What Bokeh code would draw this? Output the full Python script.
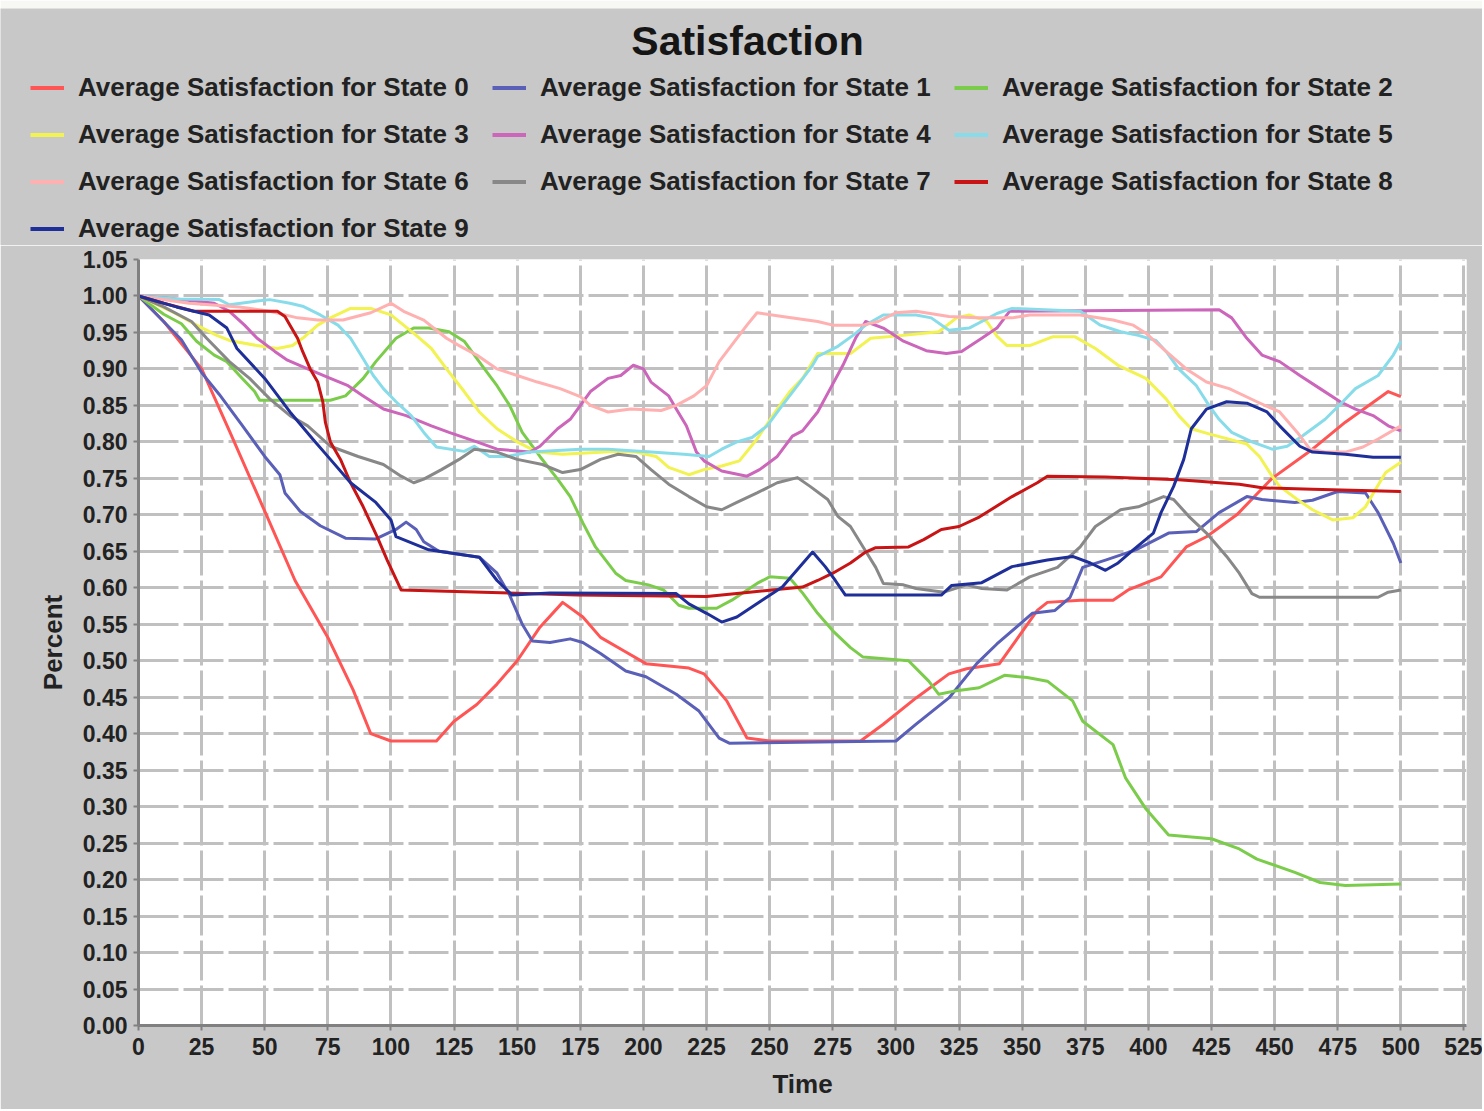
from bokeh.plotting import figure
from bokeh.models import Legend, LegendItem, FixedTicker, NumeralTickFormatter, Range1d, Label
from bokeh.embed import file_html
from bokeh.resources import INLINE

FONT = "Liberation Sans"
BG = "#c8c8c8"

title_text = "Satisfaction"
x_label = "Time"
y_label = "Percent"
series_names = [
    "Average Satisfaction for State 0", "Average Satisfaction for State 1",
    "Average Satisfaction for State 2", "Average Satisfaction for State 3",
    "Average Satisfaction for State 4", "Average Satisfaction for State 5",
    "Average Satisfaction for State 6", "Average Satisfaction for State 7",
    "Average Satisfaction for State 8", "Average Satisfaction for State 9",
]
series_colors = ["#ff5555", "#5a5fb8", "#7ccc4c", "#f2f250", "#cc66bb",
                 "#88dcea", "#ffb0b0", "#888888", "#c81414", "#1f2f99"]

x_ticks = [0, 25, 50, 75, 100, 125, 150, 175, 200, 225, 250, 275, 300, 325,
           350, 375, 400, 425, 450, 475, 500, 525]
y_ticks = [0.00, 0.05, 0.10, 0.15, 0.20, 0.25, 0.30, 0.35, 0.40, 0.45, 0.50,
           0.55, 0.60, 0.65, 0.70, 0.75, 0.80, 0.85, 0.90, 0.95, 1.00, 1.05]

# State 0
t0 = [0, 10, 25, 36, 50, 62, 75, 85, 92, 100, 118, 125, 134, 142, 150, 159, 168, 176, 183, 192, 201, 218, 224, 233, 241, 250, 286, 295, 308, 321, 328, 341, 356, 360, 373, 386, 392, 405, 415, 423, 435, 449, 465, 478, 491, 495, 500]
v0 = [1.0, 0.965, 0.90, 0.815, 0.705, 0.61, 0.532, 0.46, 0.40, 0.39, 0.39, 0.417, 0.44, 0.468, 0.50, 0.546, 0.58, 0.56, 0.532, 0.514, 0.496, 0.49, 0.482, 0.445, 0.394, 0.39, 0.39, 0.413, 0.449, 0.482, 0.489, 0.496, 0.569, 0.58, 0.583, 0.583, 0.597, 0.615, 0.656, 0.67, 0.70, 0.75, 0.79, 0.827, 0.859, 0.869, 0.862]
# State 1
t1 = [0, 17, 25, 32, 41, 50, 56, 58, 64, 72, 82, 94, 102, 106, 110, 113, 119, 135, 142, 147, 152, 156, 163, 171, 176, 183, 193, 201, 213, 222, 230, 234, 300, 308, 321, 332, 340, 354, 363, 369, 374, 383, 395, 408, 419, 428, 439, 445, 458, 465, 475, 486, 491, 497, 500]
v1 = [1.0, 0.94, 0.895, 0.865, 0.823, 0.78, 0.755, 0.73, 0.705, 0.685, 0.668, 0.667, 0.68, 0.69, 0.68, 0.663, 0.65, 0.642, 0.62, 0.59, 0.55, 0.527, 0.525, 0.53, 0.525, 0.51, 0.486, 0.478, 0.454, 0.431, 0.394, 0.387, 0.39, 0.413, 0.449, 0.496, 0.523, 0.565, 0.569, 0.587, 0.628, 0.638, 0.652, 0.675, 0.677, 0.703, 0.725, 0.721, 0.717, 0.72, 0.732, 0.73, 0.703, 0.661, 0.634]
# State 2
t2 = [0, 10, 17, 23, 30, 35, 40, 46, 48, 76, 82, 89, 94, 102, 109, 115, 123, 129, 136, 142, 147, 152, 159, 166, 171, 176, 181, 189, 193, 202, 208, 214, 218, 229, 235, 245, 250, 258, 263, 269, 275, 282, 287, 305, 313, 317, 324, 333, 343, 352, 360, 370, 374, 386, 391, 399, 408, 425, 436, 443, 458, 468, 478, 500]
v2 = [1.0, 0.975, 0.962, 0.938, 0.919, 0.91, 0.891, 0.869, 0.857, 0.857, 0.863, 0.887, 0.91, 0.942, 0.956, 0.956, 0.951, 0.938, 0.905, 0.877, 0.85, 0.813, 0.78, 0.749, 0.725, 0.689, 0.656, 0.62, 0.61, 0.604, 0.597, 0.576, 0.572, 0.572, 0.583, 0.606, 0.615, 0.613, 0.593, 0.565, 0.541, 0.518, 0.505, 0.50, 0.472, 0.454, 0.459, 0.463, 0.48, 0.477, 0.472, 0.445, 0.417, 0.385, 0.339, 0.297, 0.261, 0.256, 0.242, 0.228, 0.21, 0.196, 0.192, 0.194]
# State 3
t3 = [0, 13, 23, 31, 36, 47, 55, 61, 65, 71, 76, 84, 92, 100, 105, 110, 116, 122, 129, 135, 142, 150, 158, 168, 190, 197, 205, 210, 218, 224, 231, 238, 245, 253, 258, 263, 269, 282, 290, 303, 317, 324, 329, 336, 340, 344, 353, 362, 371, 379, 388, 399, 407, 412, 417, 424, 439, 444, 449, 452, 459, 465, 473, 481, 486, 490, 494, 500]
v3 = [1.0, 0.979, 0.96, 0.946, 0.939, 0.932, 0.928, 0.932, 0.942, 0.96, 0.97, 0.983, 0.983, 0.974, 0.96, 0.946, 0.928, 0.90, 0.869, 0.841, 0.818, 0.80, 0.786, 0.783, 0.787, 0.786, 0.78, 0.765, 0.755, 0.762, 0.767, 0.774, 0.804, 0.845, 0.869, 0.887, 0.921, 0.921, 0.942, 0.946, 0.951, 0.97, 0.974, 0.965, 0.945, 0.932, 0.932, 0.944, 0.944, 0.928, 0.905, 0.887, 0.859, 0.836, 0.818, 0.811, 0.797, 0.78, 0.753, 0.739, 0.721, 0.707, 0.693, 0.696, 0.711, 0.735, 0.758, 0.772]
# State 4
t4 = [0, 15, 30, 36, 42, 47, 54, 59, 67, 76, 83, 89, 97, 106, 116, 123, 134, 142, 155, 159, 166, 171, 179, 186, 191, 196, 200, 203, 210, 213, 217, 221, 224, 231, 241, 246, 253, 259, 263, 269, 274, 279, 284, 288, 295, 303, 312, 320, 326, 334, 340, 345, 428, 433, 439, 445, 452, 460, 468, 476, 482, 489, 495, 500]
v4 = [1.0, 0.996, 0.99, 0.979, 0.96, 0.942, 0.924, 0.912, 0.90, 0.887, 0.877, 0.863, 0.845, 0.836, 0.822, 0.813, 0.80, 0.79, 0.786, 0.794, 0.818, 0.831, 0.869, 0.887, 0.891, 0.905, 0.90, 0.882, 0.863, 0.845, 0.822, 0.786, 0.774, 0.76, 0.753, 0.762, 0.78, 0.808, 0.815, 0.841, 0.873, 0.905, 0.942, 0.965, 0.956, 0.938, 0.925, 0.921, 0.924, 0.942, 0.956, 0.979, 0.981, 0.97, 0.942, 0.919, 0.91, 0.891, 0.873, 0.855, 0.845, 0.836, 0.822, 0.815]
# State 5
t5 = [0, 15, 32, 36, 47, 52, 60, 65, 72, 79, 84, 89, 93, 97, 102, 108, 113, 118, 129, 133, 139, 146, 155, 175, 186, 203, 216, 226, 231, 237, 243, 249, 255, 261, 267, 269, 277, 283, 288, 295, 308, 314, 321, 329, 334, 340, 346, 373, 381, 389, 396, 403, 407, 412, 419, 424, 428, 433, 441, 449, 455, 461, 470, 477, 482, 491, 497, 500]
v5 = [1.0, 0.996, 0.995, 0.988, 0.993, 0.995, 0.99, 0.986, 0.974, 0.96, 0.942, 0.914, 0.891, 0.873, 0.855, 0.836, 0.813, 0.793, 0.787, 0.794, 0.78, 0.78, 0.786, 0.79, 0.79, 0.786, 0.783, 0.78, 0.79, 0.80, 0.806, 0.822, 0.85, 0.877, 0.905, 0.917, 0.931, 0.946, 0.96, 0.974, 0.974, 0.97, 0.953, 0.956, 0.965, 0.976, 0.983, 0.979, 0.96, 0.951, 0.946, 0.939, 0.924, 0.90, 0.877, 0.85, 0.831, 0.813, 0.80, 0.79, 0.794, 0.808, 0.831, 0.855, 0.873, 0.891, 0.919, 0.938]
# State 6
t6 = [0, 20, 40, 52, 63, 71, 81, 92, 100, 105, 113, 122, 127, 134, 142, 150, 158, 167, 175, 179, 186, 195, 207, 213, 220, 225, 230, 237, 241, 245, 255, 269, 275, 287, 293, 300, 308, 321, 332, 346, 353, 373, 386, 394, 399, 407, 415, 423, 432, 443, 452, 459, 464, 470, 478, 485, 491, 500]
v6 = [1.0, 0.99, 0.985, 0.979, 0.97, 0.967, 0.967, 0.977, 0.99, 0.979, 0.967, 0.942, 0.932, 0.919, 0.90, 0.891, 0.882, 0.873, 0.862, 0.85, 0.841, 0.845, 0.843, 0.85, 0.863, 0.877, 0.91, 0.942, 0.96, 0.977, 0.972, 0.965, 0.96, 0.96, 0.965, 0.977, 0.979, 0.972, 0.97, 0.97, 0.974, 0.974, 0.967, 0.96, 0.949, 0.924, 0.90, 0.882, 0.873, 0.855, 0.841, 0.813, 0.79, 0.786, 0.786, 0.793, 0.804, 0.822]
# State 7
t7 = [0, 10, 21, 27, 36, 44, 52, 60, 67, 76, 87, 97, 104, 109, 113, 120, 127, 133, 142, 150, 160, 168, 175, 183, 190, 197, 203, 210, 218, 225, 231, 237, 245, 253, 261, 266, 273, 277, 282, 287, 292, 295, 303, 308, 319, 328, 334, 344, 353, 364, 373, 379, 389, 396, 406, 410, 416, 423, 431, 436, 441, 444, 491, 495, 500]
v7 = [1.0, 0.985, 0.965, 0.942, 0.91, 0.887, 0.859, 0.836, 0.822, 0.794, 0.78, 0.769, 0.753, 0.744, 0.749, 0.762, 0.776, 0.79, 0.786, 0.776, 0.769, 0.758, 0.762, 0.776, 0.783, 0.78, 0.762, 0.742, 0.725, 0.711, 0.707, 0.717, 0.73, 0.744, 0.751, 0.739, 0.721, 0.698, 0.684, 0.656, 0.628, 0.606, 0.604, 0.599, 0.594, 0.604, 0.599, 0.597, 0.615, 0.628, 0.656, 0.684, 0.707, 0.711, 0.725, 0.721, 0.698, 0.675, 0.643, 0.62, 0.592, 0.587, 0.587, 0.594, 0.597]
# State 8
t8 = [0, 10, 22, 55, 58, 60, 63, 65, 68, 71, 73, 74, 76, 80, 84, 89, 94.5, 98.5, 104, 174, 225, 242, 263, 269, 275, 282, 288, 292, 305, 311, 318, 325, 333, 346, 356, 360, 383, 412, 436, 445, 465, 500]
v8 = [1.0, 0.99, 0.979, 0.979, 0.972, 0.96, 0.942, 0.924, 0.90, 0.882, 0.855, 0.827, 0.80, 0.776, 0.744, 0.711, 0.67, 0.638, 0.597, 0.59, 0.588, 0.594, 0.601, 0.61, 0.62, 0.634, 0.649, 0.655, 0.656, 0.666, 0.68, 0.684, 0.697, 0.725, 0.744, 0.753, 0.752, 0.748, 0.742, 0.737, 0.735, 0.732]
# State 9
t9 = [0, 15, 28, 35, 39, 50, 60, 69, 76, 84, 94, 100, 102, 115, 135, 142, 148, 163, 213, 218, 225, 231, 237, 247, 255, 261, 267, 272, 276, 280, 318, 322, 334, 346, 360, 370, 377, 383, 388, 394, 402, 405, 410, 414, 417, 423, 431, 439, 447, 452, 460, 465, 478, 489, 500]
v9 = [1.0, 0.985, 0.974, 0.956, 0.928, 0.887, 0.841, 0.804, 0.776, 0.744, 0.717, 0.693, 0.67, 0.652, 0.642, 0.61, 0.59, 0.593, 0.592, 0.578, 0.565, 0.553, 0.56, 0.583, 0.601, 0.625, 0.649, 0.629, 0.61, 0.59, 0.59, 0.603, 0.607, 0.629, 0.638, 0.643, 0.634, 0.624, 0.634, 0.652, 0.675, 0.703, 0.739, 0.776, 0.818, 0.845, 0.855, 0.853, 0.841, 0.822, 0.794, 0.786, 0.783, 0.779, 0.779]

all_t = [t0, t1, t2, t3, t4, t5, t6, t7, t8, t9]
all_v = [v0, v1, v2, v3, v4, v5, v6, v7, v8, v9]

TOTAL_W = 1482
HEAD_H = 245
TOP_STRIP = 8

# ---- header figure: title + legend (a separate root, so its frame spans the full width) ----
head = figure(width=TOTAL_W, height=HEAD_H, output_backend="svg", toolbar_location=None,
              x_range=Range1d(0, TOTAL_W), y_range=Range1d(HEAD_H, TOP_STRIP),
              x_axis_type=None, y_axis_type=None,
              min_border_left=0, min_border_right=0, min_border_top=TOP_STRIP,
              min_border_bottom=0,
              background_fill_color=BG, border_fill_color="#f7f7f4",
              outline_line_color=None)
head.grid.visible = False
head.add_layout(Label(x=747, y=40, text=title_text, text_align="center",
                      text_baseline="middle", text_font=FONT, text_font_style="bold",
                      text_font_size="41px", text_color="#151515"))

head_renderers = []
for i in range(10):
    hr = head.line(all_t[i], all_v[i], line_color=series_colors[i], line_width=4)
    hr.visible = False
    head_renderers.append(hr)

items = [LegendItem(label=series_names[i], renderers=[head_renderers[i]]) for i in range(10)]
legend = Legend(items=items, orientation="horizontal", ncols=3, location=(30, 1),
                glyph_width=34, glyph_height=29, label_height=29, label_width=398,
                label_standoff=14, spacing=16, padding=0, margin=0,
                border_line_color=None, background_fill_alpha=0,
                label_text_font=FONT, label_text_font_style="bold",
                label_text_font_size="26px", label_text_color="#222222")
head.add_layout(legend)

# ---- main chart ----
p = figure(width=TOTAL_W, height=864, output_backend="svg", toolbar_location=None,
           x_range=Range1d(0, 526), y_range=Range1d(0, 1.05),
           min_border_left=138, min_border_right=16, min_border_top=14,
           min_border_bottom=84,
           background_fill_color="white", border_fill_color=BG,
           outline_line_color=None)

for i in range(10):
    p.line(all_t[i], all_v[i], line_color=series_colors[i], line_width=3,
           line_join="round")

p.xaxis.ticker = FixedTicker(ticks=x_ticks)
p.yaxis.ticker = FixedTicker(ticks=y_ticks)
p.yaxis.formatter = NumeralTickFormatter(format="0.00")
p.xaxis.axis_label = x_label
p.yaxis.axis_label = y_label

for ax in (p.xaxis[0], p.yaxis[0]):
    ax.axis_line_color = "#808080"
    ax.axis_line_width = 3
    ax.major_tick_line_color = "#808080"
    ax.major_tick_line_width = 2
    ax.major_tick_out = 5
    ax.major_tick_in = 0
    ax.minor_tick_line_color = None
    ax.major_label_text_font = FONT
    ax.major_label_text_font_style = "bold"
    ax.major_label_text_font_size = "23px"
    ax.major_label_text_color = "#222222"
    ax.axis_label_text_font = FONT
    ax.axis_label_text_font_style = "bold"
    ax.axis_label_text_font_size = "26px"
    ax.axis_label_text_color = "#222222"

p.xaxis.major_label_standoff = 7
p.yaxis.major_label_standoff = 6
p.xaxis.axis_label_standoff = 11
p.yaxis.axis_label_standoff = 12

p.grid.grid_line_color = "#c0c0c0"
p.grid.grid_line_width = 3
p.grid.grid_line_dash = "40 5"

open("out.html", "w").write(file_html([head, p], INLINE))
